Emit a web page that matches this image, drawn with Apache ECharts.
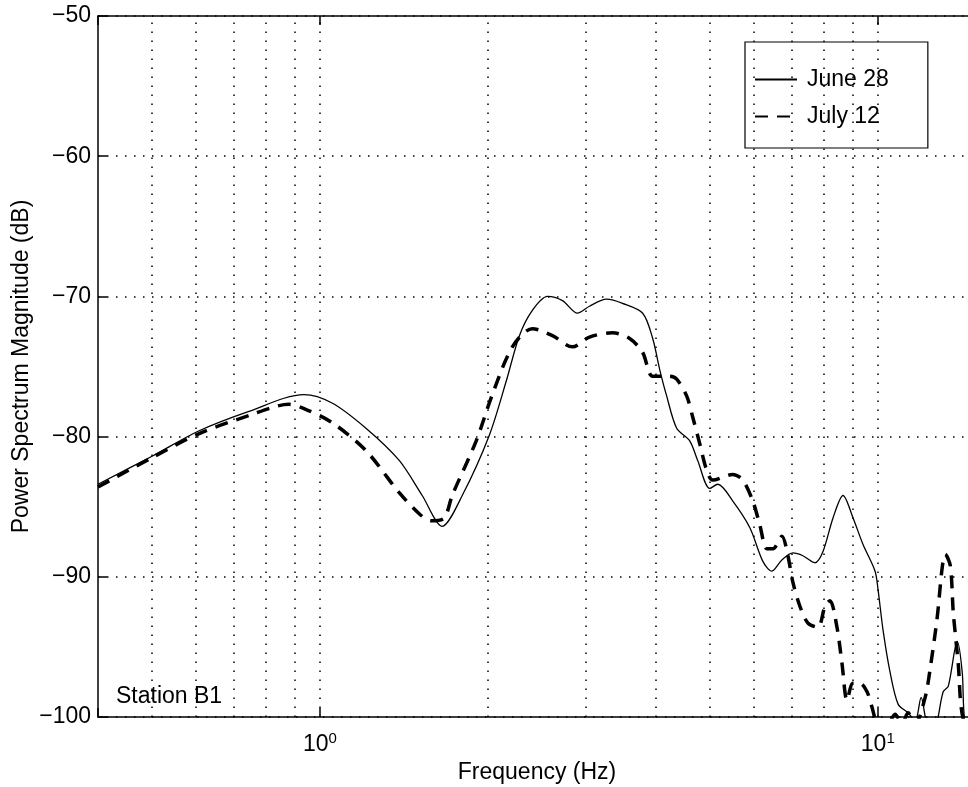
<!DOCTYPE html>
<html><head><meta charset="utf-8">
<script src="https://cdn.jsdelivr.net/npm/echarts@6/dist/echarts.min.js"></script>
<style>html,body{margin:0;padding:0;background:#fff}#c{width:968px;height:787px}</style>
</head><body><div id="c"></div>
<script>
const seriesNames = ['June 28', 'July 12'];
const juneFreq = [0.4, 0.5, 0.606, 0.746, 0.936, 1.051, 1.209, 1.387, 1.525, 1.656, 1.799, 2.012, 2.159, 2.278, 2.403, 2.557, 2.721, 2.895, 3.042, 3.265, 3.487, 3.789, 3.949, 4.064, 4.183, 4.36, 4.601, 4.755, 4.998, 5.166, 5.497, 5.898, 6.223, 6.458, 6.731, 7.045, 7.341, 7.716, 7.976, 8.313, 8.664, 9.03, 9.41, 9.889, 10.01, 10.22, 10.52, 10.88, 11.33, 11.67, 11.96, 12.26, 12.67, 12.83, 13.1, 13.38, 13.88, 14.17, 14.35, 15];
const juneDb = [-83.4, -81.4, -79.6, -78.2, -77.0, -77.6, -79.4, -81.7, -84.2, -86.4, -84.2, -79.9, -76.0, -72.8, -71.0, -70.0, -70.3, -71.2, -70.7, -70.2, -70.5, -71.2, -73.0, -75.2, -77.1, -79.4, -80.3, -81.7, -83.7, -83.4, -84.6, -86.5, -88.9, -89.6, -88.8, -88.3, -88.5, -89.0, -88.2, -85.8, -84.2, -85.8, -87.7, -89.6, -90.9, -93.8, -96.8, -99.1, -99.7, -100.3, -98.6, -100.5, -101, -100, -98.2, -97.8, -94.6, -96.8, -100.5, -102];
const julyFreq = [0.4, 0.5, 0.606, 0.746, 0.88, 0.936, 1.051, 1.209, 1.387, 1.506, 1.582, 1.67, 1.726, 1.906, 2.037, 2.213, 2.403, 2.611, 2.836, 3.042, 3.346, 3.591, 3.789, 3.949, 4.236, 4.36, 4.543, 4.658, 4.795, 4.935, 5.06, 5.497, 5.728, 5.97, 6.145, 6.326, 6.485, 6.731, 6.9, 7.045, 7.251, 7.496, 7.813, 8.041, 8.209, 8.45, 8.628, 8.809, 9.03, 9.293, 9.567, 9.765, 9.97, 10.31, 10.74, 11.06, 11.33, 11.67, 12.16, 12.42, 12.78, 13.05, 13.21, 13.49, 13.66, 13.94, 14.17, 15];
const julyDb = [-83.6, -81.5, -79.8, -78.5, -77.7, -78.0, -79.0, -81.0, -84.0, -85.5, -86.0, -85.8, -84.2, -80.3, -77.0, -73.6, -72.3, -72.8, -73.6, -72.9, -72.6, -73.0, -74.0, -75.7, -75.7, -75.9, -77.1, -78.6, -80.5, -82.4, -83.1, -82.7, -83.1, -84.6, -86.3, -88.0, -88.0, -87.1, -88.5, -90.4, -92.1, -93.3, -93.6, -92.1, -91.7, -93.6, -96.2, -98.8, -97.6, -97.6, -98.2, -99.3, -100.5, -101, -99.8, -100.5, -99.7, -100.5, -98.6, -96.5, -92.9, -89.3, -88.4, -89.2, -92.6, -96.2, -99.8, -103];
const gridFreqs = [0.5, 0.6, 0.7, 0.8, 0.9, 1, 2, 3, 4, 5, 6, 7, 8, 9, 10];
const xMin = 0.4, xMax = 15;
const yMin = -100, yMax = -50, yStep = 10;
const xLabel = 'Frequency (Hz)';
const yLabel = 'Power Spectrum Magnitude (dB)';
const note = 'Station B1';

const FONT = 'Liberation Sans';
const FS = 23;
const pairs = (xs, ys) => xs.map((x, i) => [x, ys[i]]);
const dotted = {color: '#000', width: 1.5, type: [1.5, 7.5]};
const axisBlack = {color: '#000', width: 1.5};

const chart = echarts.init(document.getElementById('c'), null, {renderer: 'canvas'});
chart.setOption({
  animation: false,
  backgroundColor: '#fff',
  title: {text: note, left: 116, top: 685, padding: 0,
    textStyle: {fontFamily: FONT, fontSize: FS, fontWeight: 'normal', color: '#000'}},
  legend: {
    data: seriesNames, orient: 'vertical', left: 745, top: 42,
    padding: [26, 39, 20, 9], itemGap: 14, itemWidth: 42, itemHeight: 14,
    borderColor: '#000', borderWidth: 1.2, backgroundColor: 'transparent',
    itemStyle: {opacity: 0},
    textStyle: {fontFamily: FONT, fontSize: FS, color: '#000', padding: [0, 0, 0, 5]}
  },
  grid: {left: 98, top: 16, bottom: 70, right: -8, containLabel: false, outerBoundsMode: 'none'},
  xAxis: [{
    type: 'log', logBase: 10, min: xMin, max: xMax,
    name: xLabel, nameLocation: 'middle', nameGap: 42,
    nameTextStyle: {fontFamily: FONT, fontSize: FS, color: '#000'},
    axisLine: {lineStyle: axisBlack},
    axisTick: {inside: true, length: 9, lineStyle: axisBlack},
    splitLine: {show: false},
    axisLabel: {
      margin: 14, color: '#000',
      formatter: v => {
        const l = Math.log10(v);
        if (Math.abs(l - Math.round(l)) < 1e-6) return '{b|10}{s|' + Math.round(l) + '}';
        return '';
      },
      rich: {
        b: {fontFamily: FONT, fontSize: FS, color: '#000'},
        s: {fontFamily: FONT, fontSize: 15, color: '#000', verticalAlign: 'top', padding: [0, 0, 12, 0]}
      }
    }
  }, {
    type: 'log', logBase: 10, min: xMin, max: xMax, position: 'top',
    axisLine: {lineStyle: axisBlack},
    axisTick: {inside: true, length: 9, lineStyle: axisBlack},
    axisLabel: {show: false}, splitLine: {show: false}
  }],
  yAxis: {
    type: 'value', min: yMin, max: yMax, interval: yStep,
    name: yLabel, nameLocation: 'middle', nameGap: 65, nameMoveOverlap: false,
    nameTextStyle: {fontFamily: FONT, fontSize: FS, color: '#000'},
    axisLine: {show: true, lineStyle: axisBlack},
    axisTick: {show: true, inside: true, length: 9, lineStyle: axisBlack},
    axisLabel: {margin: 7, color: '#000', fontFamily: FONT, fontSize: FS,
      formatter: v => String(v).replace('-', '\u2212')},
    splitLine: {show: true, lineStyle: dotted}
  },
  series: [{
    name: seriesNames[0], type: 'line', data: pairs(juneFreq, juneDb),
    symbol: 'none', smooth: 0.3, clip: true,
    lineStyle: {color: '#000', width: 1.3},
    itemStyle: {color: '#000'},
    markLine: {
      silent: true, symbol: 'none', label: {show: false},
      lineStyle: dotted, animation: false,
      emphasis: {disabled: true},
      data: gridFreqs.map(f => ({xAxis: f}))
    }
  }, {
    name: seriesNames[1], type: 'line', data: pairs(julyFreq, julyDb),
    symbol: 'none', smooth: 0.3, clip: true,
    lineStyle: {color: '#000', width: 3.5, type: [13, 9]},
    itemStyle: {color: '#000'}
  }]
});
</script></body></html>
